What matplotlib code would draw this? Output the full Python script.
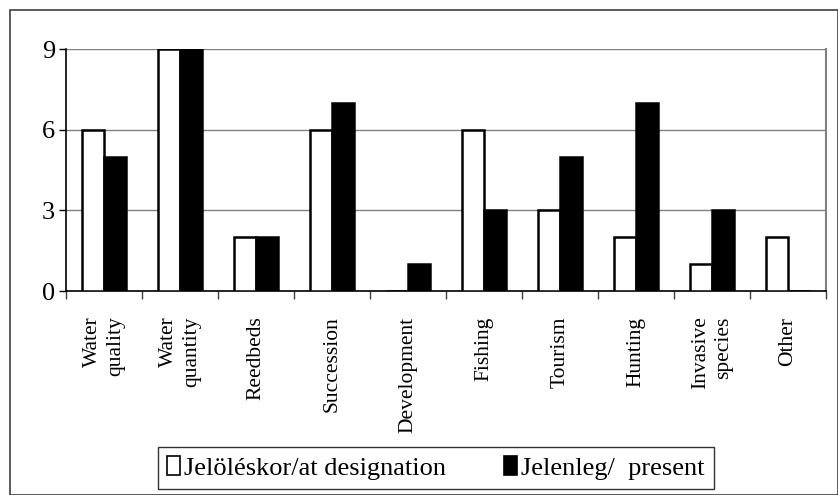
import matplotlib.pyplot as plt
import numpy as np
from matplotlib.patches import Patch, Rectangle

categories = ["Water\nquality", "Water\nquantity", "Reedbeds", "Succession", "Development",
              "Fishing", "Tourism", "Hunting", "Invasive\nspecies", "Other"]
at_designation = [6, 9, 2, 6, 0, 6, 3, 2, 1, 2]
present = [5, 9, 2, 7, 1, 3, 5, 7, 3, 0]
series_names = ["Jelöléskor/at designation", "Jelenleg/  present"]

plt.rcParams['font.family'] = ['Liberation Serif', 'DejaVu Serif']

fig = plt.figure(figsize=(8.38, 4.95), dpi=100)
ax = fig.add_axes([66/838, 1 - 291/495, 760/838, 242/495])

x = np.arange(len(categories))
w = 0.29
ax.bar(x - w/2, at_designation, w, color='white', edgecolor='black', linewidth=1.8, zorder=3)
ax.bar(x + w/2, present, w, color='black', edgecolor='black', linewidth=1.8, zorder=3)

ax.set_xlim(-0.5, len(categories) - 0.5)
ax.set_ylim(0, 9)
ax.set_yticks([0, 3, 6, 9])
ax.yaxis.grid(True, color='#808080', linewidth=1, zorder=0)
ax.tick_params(axis='y', labelsize=19, length=5, width=1, direction='out', pad=3)

ax.set_xticks(np.append(x - 0.5, len(categories) - 0.5))
ax.set_xticklabels([])
ax.tick_params(axis='x', length=6, width=1, direction='out', color='#404040')
for i, lab in enumerate(categories):
    ax.text(i, -0.95, lab, rotation=90, ha='center', va='top', multialignment='right',
            fontsize=15.5, linespacing=1.25, transform=ax.transData, clip_on=False)

ax.spines['top'].set_visible(False)
ax.spines['right'].set_color('#808080')
ax.spines['right'].set_linewidth(1.5)
ax.spines['left'].set_linewidth(1.2)
ax.spines['bottom'].set_linewidth(1.2)

handles = [Patch(facecolor='white', edgecolor='black', linewidth=1.2),
           Patch(facecolor='black', edgecolor='black', linewidth=1.2)]
leg = fig.legend(handles, series_names, loc='center', bbox_to_anchor=(436/838, 1 - 468/495),
                 ncol=2, fontsize=19, frameon=True, fancybox=False, handlelength=0.5,
                 handleheight=0.7, handletextpad=0.15, columnspacing=2.2, borderpad=0.35,
                 borderaxespad=0)
leg.get_frame().set_edgecolor('black')
leg.get_frame().set_linewidth(1)

fig.patches.append(Rectangle((10/838, 0), 828/838, 1 - 10/495, transform=fig.transFigure,
                             fill=False, edgecolor='#404040', linewidth=1.2))

fig.savefig('out.png', dpi=100)
